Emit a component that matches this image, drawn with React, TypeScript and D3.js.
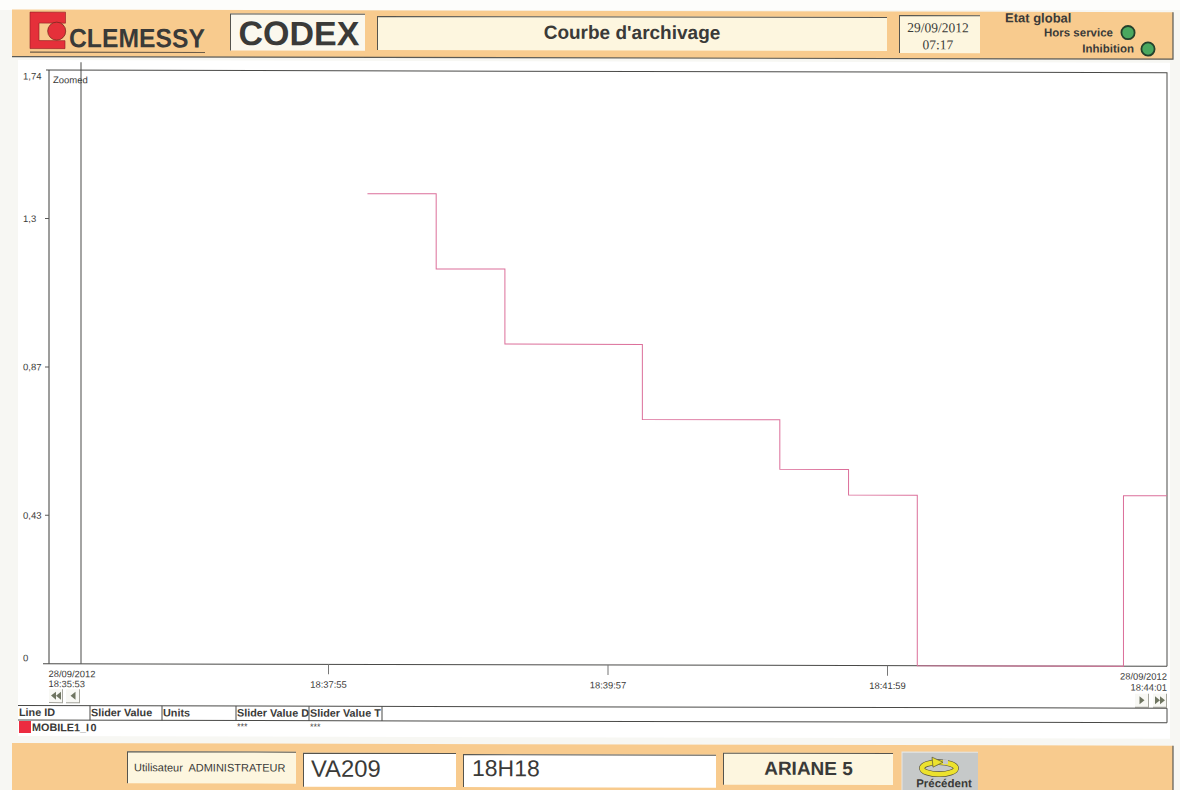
import React from "react";
import * as d3 from "d3";

const W = 1180, H = 790;
const SANS = "'Liberation Sans', Arial, sans-serif";
const SERIF = "'Liberation Serif', serif";
const INK = "#3a3a38";
const ORANGE = "#f8cb8e";
const CREAM = "#fdf6df";

const parseT = d3.timeParse("%H:%M:%S");
const T = (s: string) => parseT(s) as Date;

const stepTimes = ["18:38:12", "18:38:42", "18:39:12", "18:40:12", "18:41:12", "18:41:42", "18:42:12", "18:43:42", "18:44:01"];
const stepValues = [1.38, 1.16, 0.94, 0.72, 0.575, 0.5, 0, 0.5, 0.5];
const yTickValues = [1.305, 0.87, 0.435];
const yTickLabels = ["1,3", "0,87", "0,43"];
const xTickTimes = ["18:37:55", "18:39:57", "18:41:59"];
const tableHeaders = ["Line ID", "Slider Value", "Units", "Slider Value D", "Slider Value T"];
const tableEdges = [18, 90, 162, 236, 309, 382];

const x = d3.scaleTime().domain([T("18:35:53"), T("18:44:01")]).range([49, 1167]);
const y = d3.scaleLinear().domain([0, 1.74]).range([663.6, 70]);
const stepPoints = stepTimes.map((t, i) => ({ t: T(t), v: stepValues[i] }));
const stepPath = d3.line<{ t: Date; v: number }>().x(d => x(d.t)).y(d => y(d.v)).curve(d3.curveStepAfter)(stepPoints) as string;

function Panel({ x: bx, y: by, w, h, fill }: { x: number; y: number; w: number; h: number; fill: string }) {
  return (
    <g>
      <rect x={bx} y={by} width={w} height={h} fill={fill} />
      <path d={`M${bx + 0.5} ${by + h}V${by + 0.5}H${bx + w}`} fill="none" stroke="#55544e" strokeWidth={1} />
    </g>
  );
}

function NavButton({ bx, by, dir, double }: { bx: number; by: number; dir: 1 | -1; double?: boolean }) {
  const cx = bx + 7;
  const tri = (c: number) => `M${c - 2.5 * dir} ${by + 2.5}L${c + 2.5 * dir} ${by + 6.5}L${c - 2.5 * dir} ${by + 10.5}Z`;
  return (
    <g>
      <rect x={bx} y={by} width={14} height={14} fill="#f8f8f4" />
      <path d={`M${bx} ${by + 13.5}H${bx + 13.5}V${by}`} fill="none" stroke="#a5a59d" strokeWidth={1} />
      {double
        ? <path d={tri(cx - 2.5) + tri(cx + 2.5)} fill="#6f7561" />
        : <path d={tri(cx)} fill="#6f7561" />}
    </g>
  );
}

export default function App() {
  return (
    <svg width={W} height={H} viewBox={`0 0 ${W} ${H}`} style={{ position: "absolute", left: 0, top: 0, display: "block", background: "#f7f7f3" }} fontFamily={SANS}>
      <rect x={0} y={0} width={W} height={10} fill="#fdfdfb" />
      <g transform="skewY(0.133)">
        {/* page */}
        <rect x={18} y={60} width={1152} height={676} fill="#ffffff" />

        {/* header */}
        <rect x={12} y={9.5} width={1161} height={47} fill={ORANGE} />
        <path d="M12 56.5H1173V9.5" fill="none" stroke="#5b5a54" strokeWidth={1.2} />
        <path d="M30 12H65.5V23H39V40.5H65V48.5H30Z" fill="#e5303a" stroke="#8c1c22" strokeWidth={0.6} />
        <circle cx={56.7} cy={31} r={9} fill="#e5303a" stroke="#7a2a20" strokeWidth={0.8} />
        <text x={69} y={47} fontSize={26.5} fontWeight={700} fill={INK} textLength={136} lengthAdjust="spacingAndGlyphs">CLEMESSY</text>
        <line x1={30} x2={205} y1={52} y2={52} stroke="#6b5c48" strokeWidth={1.2} />
        <Panel x={230} y={13} w={135} h={37} fill="#fbf8ee" />
        <text x={299} y={44.5} fontSize={34} fontWeight={700} fill={INK} textAnchor="middle">CODEX</text>
        <Panel x={377} y={15} w={510} h={34} fill={CREAM} />
        <text x={632} y={37.5} fontSize={19} fontWeight={700} fill={INK} textAnchor="middle">Courbe d'archivage</text>
        <Panel x={899} y={13} w={81} h={38} fill={CREAM} />
        <text x={938} y={30} fontSize={13.5} fontFamily={SERIF} fill={INK} textAnchor="middle">29/09/2012</text>
        <text x={938} y={47} fontSize={13.5} fontFamily={SERIF} fill={INK} textAnchor="middle">07:17</text>
        <text x={1005} y={20} fontSize={13} fontWeight={700} fill={INK}>Etat global</text>
        <text x={1113} y={34} fontSize={11.5} fontWeight={700} fill={INK} textAnchor="end">Hors service</text>
        <text x={1134} y={50} fontSize={11.5} fontWeight={700} fill={INK} textAnchor="end">Inhibition</text>
        <circle cx={1128} cy={30} r={6.6} fill="#4aa85f" stroke="#23402c" strokeWidth={1.8} />
        <circle cx={1148} cy={46.4} r={6.6} fill="#4aa85f" stroke="#23402c" strokeWidth={1.8} />

        {/* plot frame */}
        <path d={`M46 70H1167V${y(0)}`} fill="none" stroke="#4a4a48" strokeWidth={1} />
        <line x1={49} x2={49} y1={70} y2={y(0)} stroke="#3c3c3a" strokeWidth={1} />
        <line x1={81} x2={81} y1={62} y2={y(0)} stroke="#4a4a48" strokeWidth={1} />
        <line x1={43} x2={1167} y1={y(0)} y2={y(0)} stroke="#4a4a48" strokeWidth={1} />
        <text x={53} y={83} fontSize={9.5} fill={INK}>Zoomed</text>

        {/* y axis */}
        <text x={23} y={79.5} fontSize={9.5} fill={INK}>1,74</text>
        {yTickValues.map((v, i) => (
          <g key={v}>
            <line x1={45} x2={49} y1={y(v)} y2={y(v)} stroke="#5a5a58" />
            <text x={23} y={y(v) + 3.5} fontSize={9.5} fill={INK}>{yTickLabels[i]}</text>
          </g>
        ))}
        <text x={23} y={y(0) - 2.5} fontSize={9.5} fill={INK}>0</text>

        {/* x axis */}
        {xTickTimes.map(t => (
          <g key={t}>
            <line x1={x(T(t))} x2={x(T(t))} y1={y(0)} y2={y(0) + 10} stroke="#777" />
            <text x={x(T(t))} y={687} fontSize={9.4} fill={INK} textAnchor="middle">{t}</text>
          </g>
        ))}
        <text x={48.5} y={677} fontSize={9.4} fill={INK}>28/09/2012</text>
        <text x={48.5} y={687} fontSize={9.4} fill={INK}>18:35:53</text>
        <text x={1167} y={677} fontSize={9.4} fill={INK} textAnchor="end">28/09/2012</text>
        <text x={1167} y={688} fontSize={9.4} fill={INK} textAnchor="end">18:44:01</text>

        {/* series */}
        <path d={stepPath} fill="none" stroke="#dc6f9a" strokeWidth={1} />

        {/* scroll buttons */}
        <NavButton bx={49} by={689} dir={-1} double />
        <NavButton bx={66} by={689} dir={-1} />
        <NavButton bx={1135} by={691} dir={1} />
        <NavButton bx={1153} by={691} dir={1} double />

        {/* table */}
        <line x1={18} x2={1167} y1={705.5} y2={705.5} stroke="#4a4a48" />
        <line x1={18} x2={1167} y1={720} y2={720} stroke="#4a4a48" />
        <line x1={1167} x2={1167} y1={705.5} y2={720} stroke="#4a4a48" />
        {tableEdges.slice(1).map(e => (
          <line key={e} x1={e} x2={e} y1={705.5} y2={720} stroke="#4a4a48" />
        ))}
        {tableHeaders.map((h, i) => (
          <text key={h} x={tableEdges[i] + 1} y={716} fontSize={10.8} fontWeight={700} fill={INK}>{h}</text>
        ))}
        <rect x={19} y={721} width={12} height={12} fill="#ec2c40" />
        <text x={32} y={731} fontSize={10.8} fontWeight={700} fill={INK}>MOBILE1_I</text>
        <text x={90.5} y={731} fontSize={10.8} fontWeight={700} fill={INK}>0</text>
        <text x={237} y={729} fontSize={9} fill={INK}>***</text>
        <text x={310} y={729} fontSize={9} fill={INK}>***</text>

        {/* footer */}
        <rect x={12} y={743} width={1161} height={50} fill={ORANGE} />
        <path d="M1173 743V790" stroke="#5b5a54" strokeWidth={1.2} />
        <Panel x={127} y={751} w={169} h={32} fill={CREAM} />
        <text x={134} y={771} fontSize={11} fill={INK} xmlSpace="preserve">Utilisateur  ADMINISTRATEUR</text>
        <Panel x={303} y={752} w={153} h={34} fill="#ffffff" />
        <text x={311} y={776} fontSize={23.8} fill={INK}>VA209</text>
        <Panel x={463} y={753} w={253} h={33} fill="#ffffff" />
        <text x={472} y={775} fontSize={23} fill={INK}>18H18</text>
        <Panel x={723} y={751} w={170} h={32} fill={CREAM} />
        <text x={808.5} y={773} fontSize={19} fontWeight={700} fill={INK} textAnchor="middle">ARIANE 5</text>
        <rect x={902} y={750} width={76} height={42} fill="#c6c9c9" />
        <path d="M902 792V750H978" fill="none" stroke="#e4e6e6" />
        <ellipse cx={939} cy={766} rx={17} ry={6} fill="none" stroke="#55503a" strokeWidth={5.8} />
        <ellipse cx={939} cy={766} rx={17} ry={6} fill="none" stroke="#ece22e" strokeWidth={4.6} />
        <path d="M932 755L943 760L933 765Z" fill="#ece22e" stroke="#55503a" strokeWidth={0.7} />
        <rect x={943} y={757} width={5} height={5} fill="#c6c9c9" />
        <text x={944} y={785} fontSize={11.5} fontWeight={700} fill={INK} textAnchor="middle">Précédent</text>
      </g>
    </svg>
  );
}
